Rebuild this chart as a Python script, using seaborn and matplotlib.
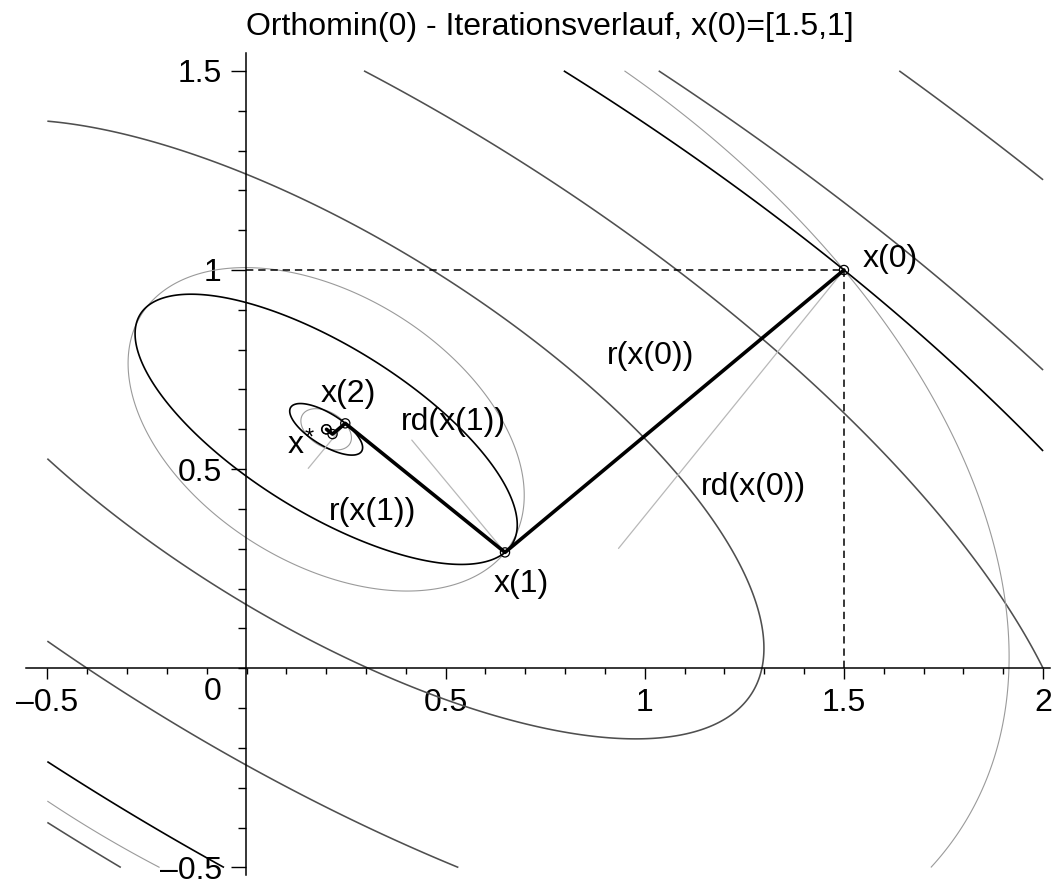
import numpy as np
import matplotlib
matplotlib.use("Agg")
import matplotlib.pyplot as plt
from matplotlib.ticker import MultipleLocator, FixedLocator, FuncFormatter
import seaborn as sns

# Quadratic model  A x = b  (2x2 symmetric positive definite)
A = np.array([[2.0, 1.0], [1.0, 3.0]])
b = np.array([1.0, 2.0])
x_star = [0.2, 0.6]

# Orthomin(0) iterates x(0) ... x(4)
iter_x = [1.5, 0.649, 0.248, 0.216, 0.201]
iter_y = [1.0, 0.291, 0.615, 0.588, 0.600]

# rd(x(k)) segments: from the iterate along A r(x(k))
rd_x = [[1.5, 0.934], [0.649, 0.415], [0.248, 0.155]]
rd_y = [[1.0, 0.301], [0.291, 0.573], [0.615, 0.502]]

# background levels of the squared residual norm |b - A x|^2
res_levels = [3.02, 9.0, 19.1, 31.4]

# tick positions
xticks_major = [-0.5, 0.5, 1.0, 1.5, 2.0]
yticks_major = [-0.5, 0.5, 1.0, 1.5]

title = "Orthomin(0) - Iterationsverlauf, x(0)=[1.5,1]"

sns.set_theme(style="white")
plt.rcParams["font.family"] = ["Liberation Sans", "DejaVu Sans"]
plt.rcParams["axes.unicode_minus"] = False
plt.rcParams["text.color"] = "black"
plt.rcParams["xtick.color"] = "black"
plt.rcParams["ytick.color"] = "black"

W, H = 1053, 884
fig = plt.figure(figsize=(W / 100, H / 100), dpi=100)
fig.patch.set_facecolor("white")

# pixel geometry of the plotting frame
ppu = 398.3                 # pixels per data unit
ox, oy = 246.5, 668.3       # pixel position of the origin
xlim = (-0.553, 2.017)
ylim = (-0.52, 1.545)
left_px = ox + xlim[0] * ppu
top_px = oy - ylim[1] * ppu
w_px = (xlim[1] - xlim[0]) * ppu
h_px = (ylim[1] - ylim[0]) * ppu
ax = fig.add_axes([left_px / W, (H - top_px - h_px) / H, w_px / W, h_px / H])
ax.set_xlim(*xlim)
ax.set_ylim(*ylim)
ax.set_facecolor("white")

# function fields on the plotting region
gx = np.linspace(-0.5, 2.0, 701)
gy = np.linspace(-0.5, 1.5, 561)
X, Y = np.meshgrid(gx, gy)
R1 = b[0] - (A[0, 0] * X + A[0, 1] * Y)
R2 = b[1] - (A[1, 0] * X + A[1, 1] * Y)
RES = R1 ** 2 + R2 ** 2
EX, EY = X - x_star[0], Y - x_star[1]
ENE = A[0, 0] * EX ** 2 + 2 * A[0, 1] * EX * EY + A[1, 1] * EY ** 2


def res_at(px, py):
    r1 = b[0] - (A[0, 0] * px + A[0, 1] * py)
    r2 = b[1] - (A[1, 0] * px + A[1, 1] * py)
    return r1 ** 2 + r2 ** 2


def ene_at(px, py):
    ex, ey = px - x_star[0], py - x_star[1]
    return A[0, 0] * ex ** 2 + 2 * A[0, 1] * ex * ey + A[1, 1] * ey ** 2


lv_res = sorted(res_at(iter_x[k], iter_y[k]) for k in range(3))
lv_ene = sorted(ene_at(iter_x[k], iter_y[k]) for k in range(3))

ax.contour(X, Y, RES, levels=res_levels, colors="#4f4f4f", linewidths=1.15, zorder=1)
ax.contour(X, Y, ENE, levels=lv_ene, colors="#9a9a9a", linewidths=0.8, zorder=2)
ax.contour(X, Y, RES, levels=lv_res, colors="black", linewidths=1.2, zorder=3)

# rd lines
for sx, sy in zip(rd_x, rd_y):
    ax.plot(sx, sy, color="#b8b8b8", lw=0.9, zorder=3)

# dashed guides to x(0)
ax.plot([0, iter_x[0]], [iter_y[0], iter_y[0]], color="black", lw=1.1,
        dashes=(4.8, 3.2), zorder=4)
ax.plot([iter_x[0], iter_x[0]], [0, iter_y[0]], color="black", lw=1.1,
        dashes=(4.8, 3.2), zorder=4)

# iteration path
sns.lineplot(x=iter_x, y=iter_y, sort=False, estimator=None, color="black",
             lw=2.6, ax=ax, zorder=5)
ax.scatter(iter_x + [x_star[0]], iter_y + [x_star[1]], s=44, facecolors="none",
           edgecolors="black", linewidths=0.9, zorder=6)

# axes through the origin
for side in ("top", "right"):
    ax.spines[side].set_visible(False)
ax.spines["left"].set_position(("data", 0))
ax.spines["bottom"].set_position(("data", 0))
for side in ("left", "bottom"):
    ax.spines[side].set_color("black")
    ax.spines[side].set_linewidth(1.1)
    ax.spines[side].set_zorder(4)

fmt = FuncFormatter(lambda v, p: ("%g" % v).replace("-", "\u2013"))
ax.xaxis.set_major_locator(FixedLocator(xticks_major))
ax.yaxis.set_major_locator(FixedLocator(yticks_major))
ax.xaxis.set_minor_locator(MultipleLocator(0.1))
ax.yaxis.set_minor_locator(MultipleLocator(0.1))
ax.xaxis.set_major_formatter(fmt)
ax.yaxis.set_major_formatter(fmt)
ax.tick_params(axis="x", which="major", direction="out", length=8, width=1.0,
               pad=6.5, labelsize=23, colors="black", labelcolor="black", bottom=True)
ax.tick_params(axis="x", which="minor", direction="out", length=4.3, width=1.0,
               bottom=True, colors="black")
ax.tick_params(axis="y", which="major", direction="out", length=10.8, width=1.0,
               pad=7, labelsize=23, colors="black", labelcolor="black", left=True)
ax.tick_params(axis="y", which="minor", direction="out", length=5.8, width=1.0,
               left=True, colors="black")
ax.grid(False)

fs = 23
ax.text(-0.084, -0.0796, "0", ha="center", va="baseline", fontsize=fs, color="black")

# point and direction labels
labels = [
    (1.548, 1.008, "x(0)"),
    (0.621, 0.192, "x(1)"),
    (0.905, 0.764, "r(x(0))"),
    (1.141, 0.435, "rd(x(0))"),
    (0.187, 0.669, "x(2)"),
    (0.388, 0.598, "rd(x(1))"),
    (0.207, 0.372, "r(x(1))"),
    (0.104, 0.5405, "x"),
]
for lx, ly, s in labels:
    ax.text(lx, ly, s, ha="left", va="baseline", fontsize=fs, color="black", zorder=7)
ax.text(0.145, 0.561, "*", ha="left", va="baseline", fontsize=17, color="black", zorder=7)

fig.text(550 / W, 1 - 35 / H, title, ha="center", va="baseline", fontsize=fs, color="black")

fig.savefig("out.png", dpi=100, facecolor="white")
